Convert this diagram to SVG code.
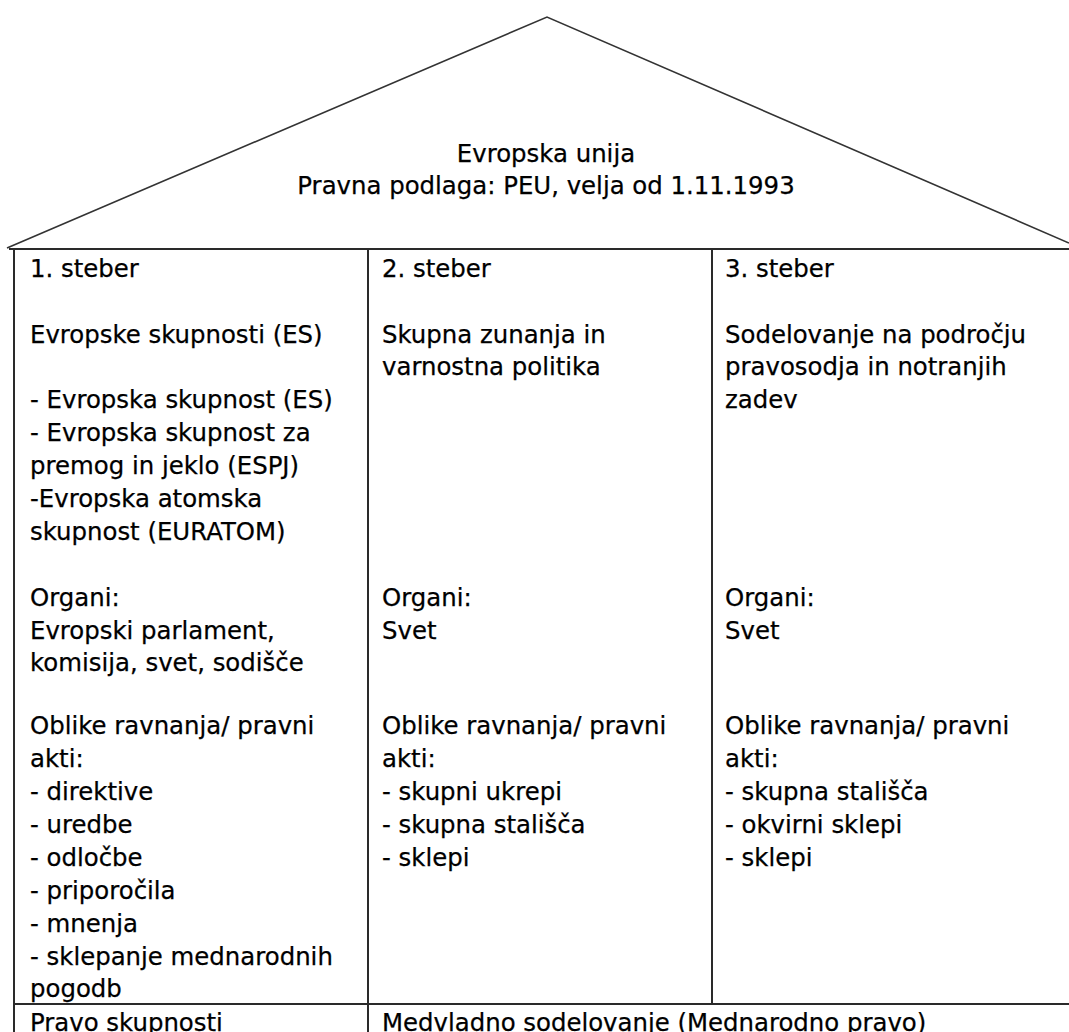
<svg xmlns="http://www.w3.org/2000/svg" width="1069" height="1032" viewBox="0 0 1069 1032">
<style>
text{font-family:"DejaVu Sans","Verdana",sans-serif;font-size:24.4px;fill:#000;stroke:#000;stroke-width:0.25}
.ln{stroke:#2a2a2a;stroke-width:2;fill:none}
.roof{stroke:#333;stroke-width:1.6;fill:none}
</style>
<rect x="0" y="0" width="1069" height="1032" fill="#fff"/>
<g id="roof">
<polyline class="roof" points="7,248 547,17 1069,243"/>
<text x="546" y="162" text-anchor="middle">Evropska unija</text>
<text x="546" y="194" text-anchor="middle">Pravna podlaga: PEU, velja od 1.11.1993</text>
</g>
<g id="frame">
<line class="ln" x1="9" y1="249" x2="1069" y2="249"/>
<line class="ln" x1="14" y1="249" x2="14" y2="1032"/>
<line class="ln" x1="368" y1="249" x2="368" y2="1032"/>
<line class="ln" x1="712" y1="249" x2="712" y2="1004"/>
<line class="ln" x1="14" y1="1004" x2="1069" y2="1004"/>
</g>
<g id="pillar1">
<text x="30" y="277">1. steber</text>
<text x="30" y="343">Evropske skupnosti (ES)</text>
<text x="30" y="408">- Evropska skupnost (ES)</text>
<text x="30" y="441">- Evropska skupnost za</text>
<text x="30" y="474">premog in jeklo (ESPJ)</text>
<text x="30" y="507">-Evropska atomska</text>
<text x="30" y="540">skupnost (EURATOM)</text>
<text x="30" y="606">Organi:</text>
<text x="30" y="639">Evropski parlament,</text>
<text x="30" y="671">komisija, svet, sodišče</text>
<text x="30" y="734">Oblike ravnanja/ pravni</text>
<text x="30" y="767">akti:</text>
<text x="30" y="800">- direktive</text>
<text x="30" y="833">- uredbe</text>
<text x="30" y="866">- odločbe</text>
<text x="30" y="899">- priporočila</text>
<text x="30" y="932">- mnenja</text>
<text x="30" y="965">- sklepanje mednarodnih</text>
<text x="30" y="997">pogodb</text>
</g>
<g id="pillar2">
<text x="382" y="277">2. steber</text>
<text x="382" y="343">Skupna zunanja in</text>
<text x="382" y="375">varnostna politika</text>
<text x="382" y="606">Organi:</text>
<text x="382" y="639">Svet</text>
<text x="382" y="734">Oblike ravnanja/ pravni</text>
<text x="382" y="767">akti:</text>
<text x="382" y="800">- skupni ukrepi</text>
<text x="382" y="833">- skupna stališča</text>
<text x="382" y="866">- sklepi</text>
</g>
<g id="pillar3">
<text x="725" y="277">3. steber</text>
<text x="725" y="343">Sodelovanje na področju</text>
<text x="725" y="375">pravosodja in notranjih</text>
<text x="725" y="408">zadev</text>
<text x="725" y="606">Organi:</text>
<text x="725" y="639">Svet</text>
<text x="725" y="734">Oblike ravnanja/ pravni</text>
<text x="725" y="767">akti:</text>
<text x="725" y="800">- skupna stališča</text>
<text x="725" y="833">- okvirni sklepi</text>
<text x="725" y="866">- sklepi</text>
</g>
<g id="base">
<text x="30" y="1031">Pravo skupnosti</text>
<text x="382" y="1031">Medvladno sodelovanje (Mednarodno pravo)</text>
</g>
</svg>
